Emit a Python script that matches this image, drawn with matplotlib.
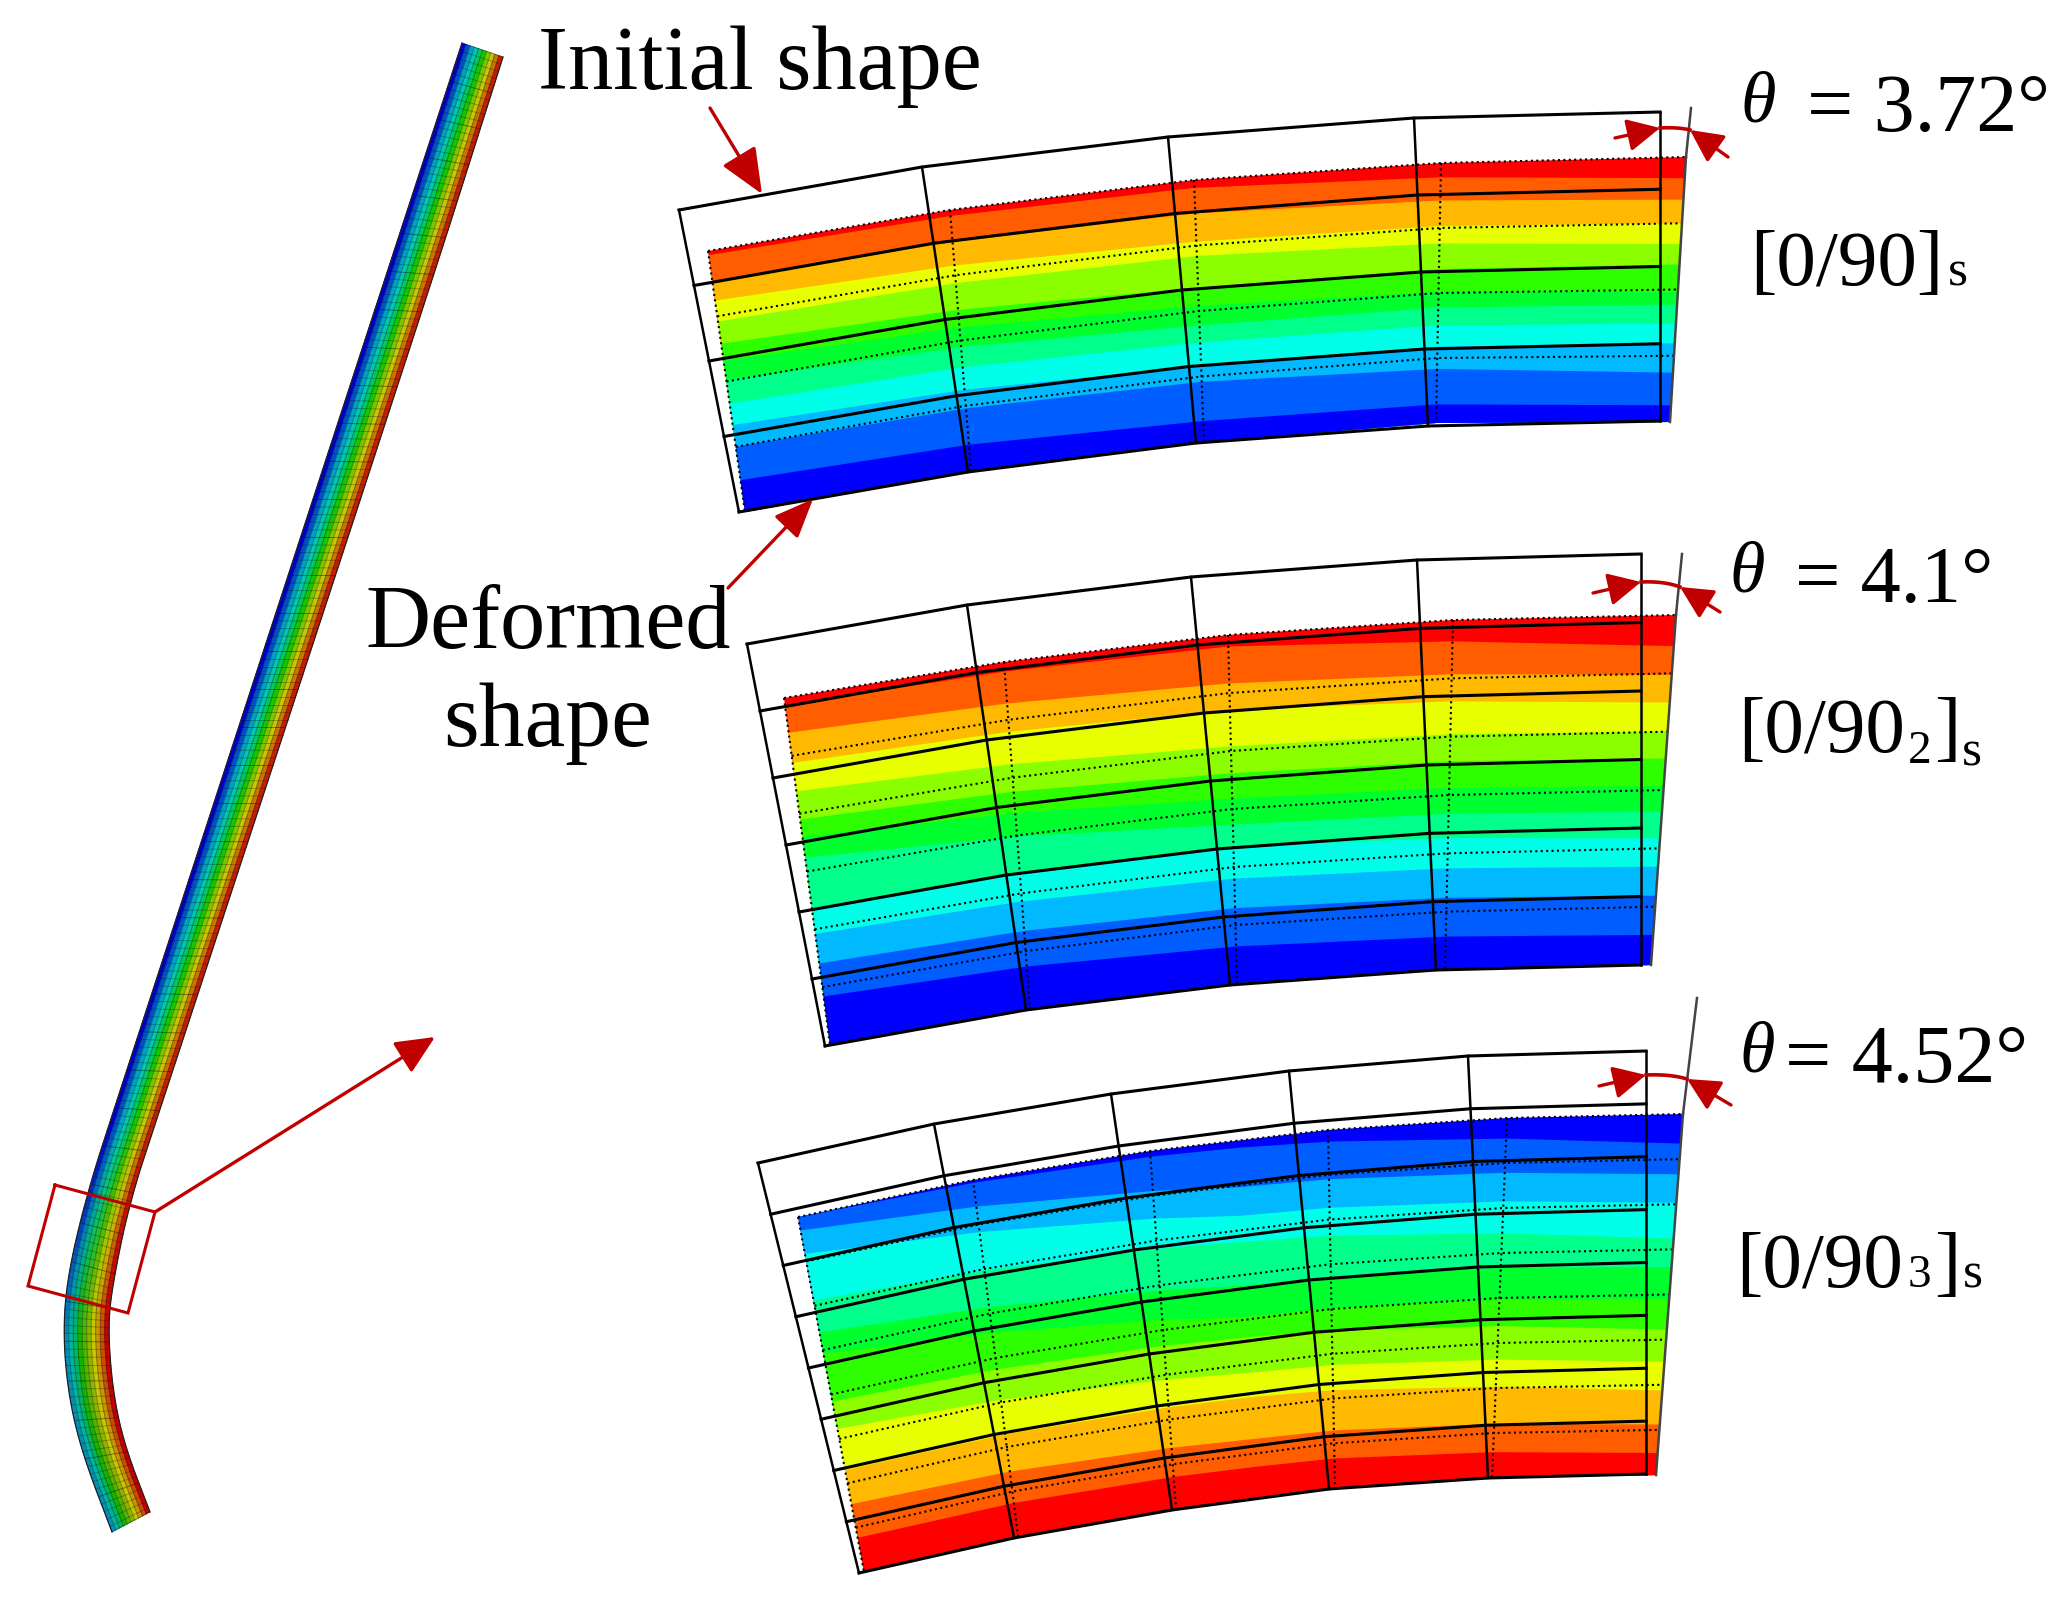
import numpy as np
import matplotlib
matplotlib.use("Agg")
import matplotlib.pyplot as plt
from matplotlib.colors import to_rgb

plt.rcParams['font.family'] = ['Liberation Serif', 'DejaVu Serif']

RED = "#c00000"
# contour colours, from the red end to the blue end
band_colors = ["#ff0000", "#ff5d00", "#ffb900", "#e8ff00", "#8bff00", "#2eff00",
               "#00ff2e", "#00ff8b", "#00ffe8", "#00b9ff", "#005dff", "#0000ff"]

# ---- panel [0/90]s ----
p1_init_top = [(679, 210), (922, 167), (1168, 137), (1414, 118), (1660, 112)]
p1_init_bot = [(739, 512), (968, 472), (1196, 443), (1428, 426), (1660, 421)]
p1_def_top = [(708, 251), (950, 210), (1194, 180), (1441, 163), (1686, 157)]
p1_def_bot = [(745, 512), (971, 471), (1204, 442), (1436, 423), (1670, 422)]
p1_left = [.016, .118, .19, .27, .355, .42, .495, .585, .667, .75, .878]
p1_mid = [.03, .127, .235, .29, .41, .48, .555, .62, .71, .77, .92]
p1_right = [.08, .161, .25, .329, .405, .51, .557, .629, .703, .814, .937]
p1_rows = 4

# ---- panel [0/90_2]s ----
p2_init_top = [(747, 644), (967, 605), (1191, 577), (1417, 560), (1641, 554)]
p2_init_bot = [(825, 1046), (1026, 1010), (1230, 985), (1436, 970), (1641, 965)]
p2_def_top = [(784, 698), (1004, 662), (1228, 635), (1453, 620), (1676, 615)]
p2_def_bot = [(830, 1045), (1030, 1009), (1237, 983), (1445, 970), (1651, 965)]
p2_left = [.022, .10, .187, .269, .35, .40, .46, .605, .68, .765, .86]
p2_mid = [.033, .139, .215, .32, .397, .47, .545, .608, .70, .785, .895]
p2_right = [.089, .171, .25, .333, .41, .489, .562, .638, .719, .802, .914]
p2_rows = 6

# ---- panel [0/90_3]s ----
p3_init_top = [(758, 1163), (934, 1124), (1111, 1094), (1289, 1071), (1468, 1056), (1646, 1051)]
p3_init_bot = [(859, 1573), (1014, 1538), (1172, 1510), (1329, 1489), (1488, 1478), (1646, 1474)]
p3_def_top = [(798, 1217), (973, 1180), (1150, 1151), (1328, 1130), (1507, 1118), (1683, 1114)]
p3_def_bot = [(864, 1572), (1018, 1536), (1176, 1509), (1335, 1488), (1492, 1478), (1656, 1475)]
p3_left = [.0, .038, .104, .235, .325, .386, .52, .597, .713, .809, .904]
p3_mid = [.02, .13, .21, .283, .405, .493, .55, .649, .717, .834, .912]
p3_right = [.082, .167, .246, .345, .424, .513, .597, .686, .766, .86, .939]
p3_rows = 8

# ---- beam outline ----
beam_left = [(462, 43), (378, 300), (117, 1100), (88, 1190), (68, 1273), (63, 1330),
             (68, 1393), (82, 1453), (112, 1532)]
beam_right = [(503, 57), (426, 300), (163, 1100), (130, 1200), (112, 1287), (108, 1330),
              (113, 1393), (125, 1447), (150, 1512)]
beam_upper = ["#0000c8", "#0050c8", "#00a0c8", "#00c8b4", "#00c864",
              "#14c800", "#78c800", "#c8c800", "#c87800", "#c81e00"]
beam_lower = ["#0090b8", "#00b4a0", "#00b464", "#14b400", "#50b400",
              "#8cb400", "#c8c800", "#c89600", "#c85000", "#c80000"]
detail_box = [(55, 1185), (155, 1212), (128, 1313), (28, 1286)]

fig = plt.figure(figsize=(20.64, 16.03), dpi=100, facecolor="white")
ax = fig.add_axes([0, 0, 1, 1])
ax.set_xlim(0, 2064)
ax.set_ylim(1603, 0)
ax.axis("off")


def along(stations, s):
    pts = np.array(stations, float)
    u = np.linspace(0, 1, len(pts))
    return np.column_stack([np.interp(s, u, pts[:, 0]), np.interp(s, u, pts[:, 1])])


def draw_panel(init_top, init_bot, def_top, def_bot, left, mid, right, rows, colors):
    s = np.linspace(0, 1, 161)
    dt, db = along(def_top, s), along(def_bot, s)
    # painter's order: each band runs from its upper boundary down to the bottom edge
    ax.fill(np.r_[dt[:, 0], db[::-1, 0]], np.r_[dt[:, 1], db[::-1, 1]],
            color=colors[0], lw=0, zorder=2)
    for k in range(len(left)):
        f = np.interp(s, [0, .5, 1], [left[k], mid[k], right[k]])[:, None]
        b = dt * (1 - f) + db * f
        ax.fill(np.r_[b[:, 0], db[::-1, 0]], np.r_[b[:, 1], db[::-1, 1]],
                color=colors[k + 1], lw=0, zorder=2 + k * 0.01)
    # deformed mesh, dotted
    dots = dict(color="black", lw=1.5, ls=(0, (1.0, 1.6)), zorder=4)
    dt_st, db_st = np.array(def_top, float), np.array(def_bot, float)
    for r in range(rows):
        y = dt_st + (db_st - dt_st) * r / rows
        ax.plot(y[:, 0], y[:, 1], **dots)
    for c in range(len(dt_st) - 1):
        ax.plot([dt_st[c, 0], db_st[c, 0]], [dt_st[c, 1], db_st[c, 1]], **dots)
    # deformed right edge
    ax.plot([dt_st[-1, 0], db_st[-1, 0]], [dt_st[-1, 1], db_st[-1, 1]],
            color="#444444", lw=1.8, zorder=4)
    # initial mesh, solid
    it_st, ib_st = np.array(init_top, float), np.array(init_bot, float)
    for r in range(rows + 1):
        y = it_st + (ib_st - it_st) * r / rows
        ax.plot(y[:, 0], y[:, 1], color="black", lw=2.2, zorder=5, solid_joinstyle="miter")
    for c in range(len(it_st)):
        ax.plot([it_st[c, 0], ib_st[c, 0]], [it_st[c, 1], ib_st[c, 1]],
                color="black", lw=1.8, zorder=5)


def arrow(tail, tip, length=22, half=10, lw=2.4):
    ax.annotate("", xy=tip, xytext=tail, zorder=8,
                arrowprops=dict(arrowstyle=f"-|>,head_length={length},head_width={half}",
                                mutation_scale=1, lw=lw, color=RED, shrinkA=0, shrinkB=0))


def angle_mark(tail_l, tip_l, tip_r, tail_r, ext_top, edge_top):
    ax.plot([ext_top[0], edge_top[0]], [ext_top[1], edge_top[1]], color="#444444", lw=1.8, zorder=6)
    ctrl = np.array([tip_l[0] * 0.4 + tip_r[0] * 0.6, tip_l[1] - 1.0])
    a, b = np.array(tip_l, float), np.array(tip_r, float)
    t = np.linspace(0, 1, 20)[:, None]
    arc = (1 - t) ** 2 * a + 2 * t * (1 - t) * ctrl + t ** 2 * b
    ax.plot(arc[:, 0], arc[:, 1], color=RED, lw=2.6, zorder=8)
    arrow(tail_l, tip_l, 20, 10)
    arrow(tail_r, tip_r, 20, 10)


draw_panel(p1_init_top, p1_init_bot, p1_def_top, p1_def_bot, p1_left, p1_mid, p1_right,
           p1_rows, band_colors)
draw_panel(p2_init_top, p2_init_bot, p2_def_top, p2_def_bot, p2_left, p2_mid, p2_right,
           p2_rows, band_colors)
draw_panel(p3_init_top, p3_init_bot, p3_def_top, p3_def_bot, p3_left, p3_mid, p3_right,
           p3_rows, band_colors[::-1])

angle_mark((1615, 138), (1660, 128), (1690, 130), (1728, 157), (1691, 108), p1_def_top[-1])
angle_mark((1593, 593), (1641, 582), (1680, 587), (1720, 612), (1682, 554), p2_def_top[-1])
angle_mark((1599, 1086), (1646, 1075), (1687, 1079), (1731, 1105), (1697, 998), p3_def_top[-1])

# ---- beam ----


def chaikin(p, n=3):
    p = np.array(p, float)
    for _ in range(n):
        q = 0.75 * p[:-1] + 0.25 * p[1:]
        r = 0.25 * p[:-1] + 0.75 * p[1:]
        mid_pts = np.empty((2 * len(q), 2))
        mid_pts[0::2], mid_pts[1::2] = q, r
        p = np.vstack([p[0], mid_pts, p[-1]])
    return p


bl, br = chaikin(beam_left), chaikin(beam_right)
# resample along arc length
d = np.r_[0, np.cumsum(np.hypot(*np.diff(bl, axis=0).T))]
t = np.r_[np.arange(0, d[-1], 8.0), d[-1]]
u = d / d[-1]
tt = t / d[-1]
L = np.column_stack([np.interp(tt, u, bl[:, 0]), np.interp(tt, u, bl[:, 1])])
R = np.column_stack([np.interp(tt, u, br[:, 0]), np.interp(tt, u, br[:, 1])])
n = len(beam_upper)
cu = np.array([to_rgb(c) for c in beam_upper])
cl = np.array([to_rgb(c) for c in beam_lower])
for i in range(len(L) - 1):
    w = np.interp(L[i, 1], [1120, 1340], [0, 1])
    for j in range(n):
        a0, a1 = j / n, (j + 1) / n
        quad = np.array([L[i] * (1 - a0) + R[i] * a0, L[i] * (1 - a1) + R[i] * a1,
                         L[i + 1] * (1 - a1) + R[i + 1] * a1, L[i + 1] * (1 - a0) + R[i + 1] * a0])
        c = cu[j] * (1 - w) + cl[j] * w
        ax.fill(quad[:, 0], quad[:, 1], color=c, lw=0.4, ec=c, zorder=2)
for i in range(len(L)):
    ax.plot([L[i, 0], R[i, 0]], [L[i, 1], R[i, 1]], color="black",
            lw=0.7, alpha=0.28 if i % 5 else 0.42, zorder=3)
for j in range(1, n):
    a = j / n
    P = L * (1 - a) + R * a
    ax.plot(P[:, 0], P[:, 1], color="black", lw=0.7, alpha=0.32, zorder=3)
ax.plot(L[:, 0], L[:, 1], color="#222222", lw=0.9, zorder=3)
ax.plot(R[:, 0], R[:, 1], color="#222222", lw=0.9, zorder=3)

box = np.array(detail_box + detail_box[:1])
ax.plot(box[:, 0], box[:, 1], color=RED, lw=2.2, zorder=7, solid_joinstyle="miter")
arrow(detail_box[1], (435, 1037), 24, 11)
arrow((710, 108), (762, 194), 28, 12)
arrow((728, 588), (813, 499), 24, 10)

# ---- text ----
big = dict(family=['Liberation Serif', 'DejaVu Serif'], color="black", ha="left", va="baseline", zorder=9)
ax.text(538, 89, "Initial shape", fontsize=65, **big)
ax.text(365, 648, "Deformed", fontsize=65, **big)
ax.text(443, 746, "shape", fontsize=66, **big)

theta = dict(fontsize=52, style="italic", color="black", ha="left", va="baseline",
             family=['Liberation Serif', 'DejaVu Serif'], zorder=9)
ax.text(1740, 121, "θ", **theta)
ax.text(1729, 591, "θ", **theta)
ax.text(1739, 1071, "θ", **theta)
ax.text(1807, 131, "= 3.72°", fontsize=59, **big)
ax.text(1795, 602, "= 4.1°", fontsize=58, **big)
ax.text(1785, 1082, "= 4.52°", fontsize=59, **big)

ax.text(1750, 285, "[0/90]", fontsize=57, **big)
ax.text(1948, 285, "s", fontsize=37, **big)
ax.text(1738, 752, "[0/90", fontsize=57, **big)
ax.text(1908, 763, "2", fontsize=34, **big)
ax.text(1934, 752, "]", fontsize=57, **big)
ax.text(1962, 765, "s", fontsize=37, **big)
ax.text(1736, 1287, "[0/90", fontsize=57, **big)
ax.text(1908, 1287, "3", fontsize=34, **big)
ax.text(1934, 1287, "]", fontsize=57, **big)
ax.text(1963, 1287, "s", fontsize=37, **big)

fig.savefig("out.png", dpi=100, facecolor="white")
